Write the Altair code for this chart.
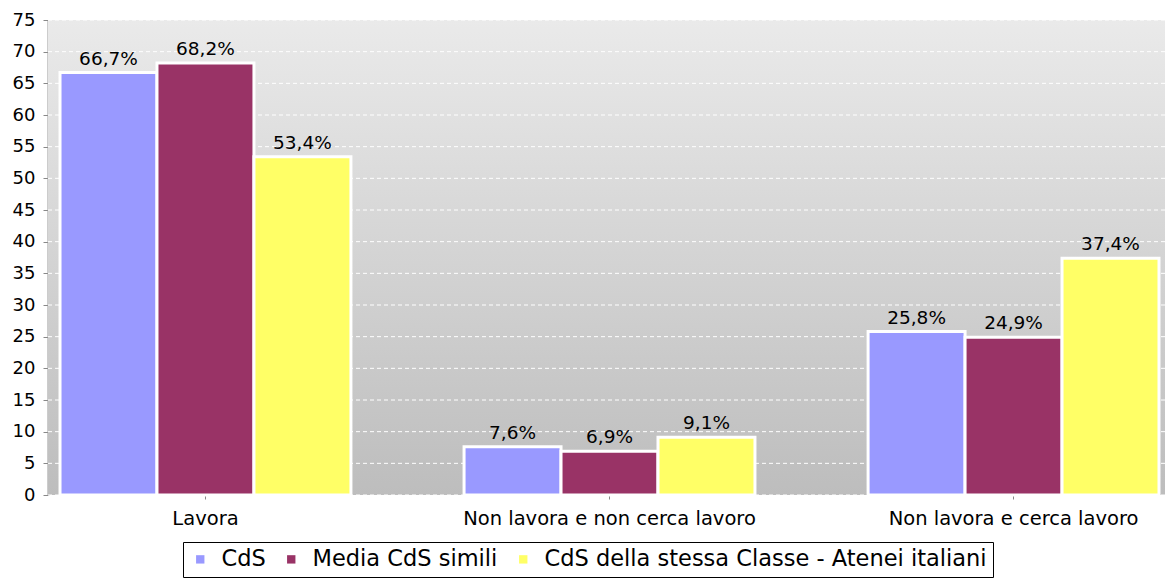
import altair as alt
import pandas as pd

categories = ["Lavora", "Non lavora e non cerca lavoro", "Non lavora e cerca lavoro"]
series = ["CdS", "Media CdS simili", "CdS della stessa Classe - Atenei italiani"]
cds = [66.7, 7.6, 25.8]
media = [68.2, 6.9, 24.9]
classe = [53.4, 9.1, 37.4]
colors = ["#9999ff", "#993366", "#ffff66"]
y_ticks = list(range(0, 80, 5))

rows = []
for i, c in enumerate(categories):
    for s, vals in zip(series, [cds, media, classe]):
        v = vals[i]
        rows.append({"cat": c, "serie": s, "val": v,
                     "label": f"{v:.1f}".replace(".", ",") + "%"})
df = pd.DataFrame(rows)
grid_df = pd.DataFrame({"g": y_ticks})

font = "DejaVu Sans"
W, H = 1117, 475

yscale = alt.Scale(domain=[0, 75], nice=False)
yaxis = alt.Axis(values=y_ticks, labelFontSize=18, labelFont=font,
                 labelColor="#000000", tickColor="#888888", tickSize=5,
                 domainColor="#999999", domainWidth=2, grid=False, labelPadding=8)

bg = alt.Chart(pd.DataFrame({"a": [0]})).mark_rect(
    color=alt.LinearGradient(gradient="linear", x1=0, y1=0, x2=0, y2=1,
                             stops=[alt.GradientStop(offset=0, color="#eaeaea"),
                                    alt.GradientStop(offset=1, color="#bdbdbd")])
).encode(x=alt.value(0), x2=alt.value(W), y=alt.value(0), y2=alt.value(H))

grid = alt.Chart(grid_df).mark_rule(color="#ffffff", strokeDash=[4, 3], strokeWidth=1).encode(
    y=alt.Y("g:Q", scale=yscale, title=None, axis=yaxis),
)

xscale = alt.Scale(paddingInner=0.28, paddingOuter=0.0223, align=0.667)
xaxis = alt.Axis(labelAngle=0, labelFontSize=19.5, labelColor="#000000", labelFont=font,
                 labelPadding=10, labelLimit=0, tickColor="#888888", tickSize=4,
                 domain=False, grid=False)
xo = alt.XOffset("serie:N", sort=series, scale=alt.Scale(paddingInner=0, paddingOuter=0))

bars = alt.Chart(df).mark_bar(stroke="white", strokeWidth=3).encode(
    x=alt.X("cat:N", sort=categories, title=None, scale=xscale, axis=xaxis),
    xOffset=xo,
    y=alt.Y("val:Q", scale=yscale, title=None, axis=yaxis),
    color=alt.Color("serie:N", sort=series,
                    scale=alt.Scale(domain=series, range=colors),
                    legend=alt.Legend(title=None, orient="none", legendX=135, legendY=522,
                                      direction="horizontal", symbolType="square",
                                      symbolSize=70, symbolStrokeWidth=0,
                                      labelFontSize=22.5, labelFont=font, labelColor="#000000",
                                      labelLimit=0, strokeColor="#000000", padding=6,
                                      columnPadding=14, symbolOffset=0, labelOffset=10)),
)

text = alt.Chart(df).mark_text(dy=-14, fontSize=18.5, font=font, color="#000000").encode(
    x=alt.X("cat:N", sort=categories, scale=xscale, axis=xaxis, title=None),
    xOffset=xo,
    y=alt.Y("val:Q", scale=yscale, axis=yaxis, title=None),
    text="label:N",
)

chart = alt.layer(bg, grid, bars, text).properties(
    width=W, height=H,
    autosize=alt.AutoSizeParams(type="none"),
    padding={"left": 40, "top": 12, "right": 0, "bottom": 84},
    background="#ffffff",
).configure_view(stroke=None)

chart.save("out.html", embed_options={"renderer": "svg", "actions": False})
